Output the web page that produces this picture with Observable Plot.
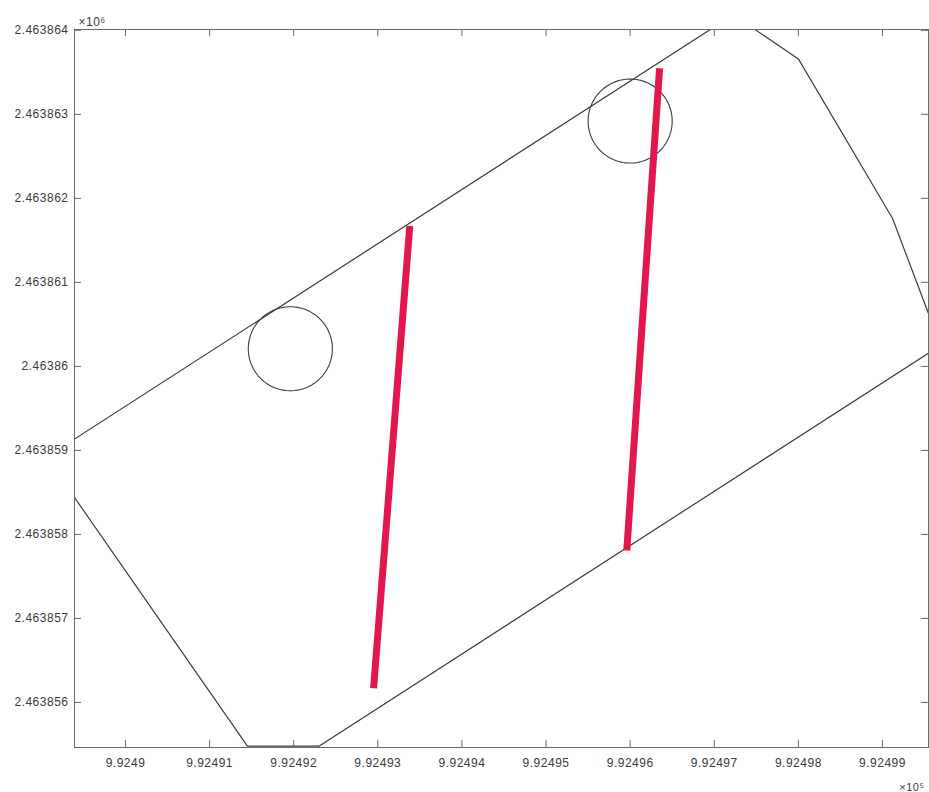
<!DOCTYPE html>
<html><head><meta charset="utf-8">
<script src="https://cdn.jsdelivr.net/npm/d3@7"></script>
<script src="https://cdn.jsdelivr.net/npm/@observablehq/plot@0.6"></script>
<style>
body{margin:0;background:#fff}
#chart svg{font-family:"Liberation Sans",Arial,Helvetica,sans-serif;}
</style>
</head><body><div id="chart"></div>
<script>
// Boundary polygon (closed)
const boundaryX = [992489.06, 992497.00, 992497.44, 992498.00, 992499.12, 992499.69, 992492.30, 992491.45, 992489.06];
const boundaryY = [2463858.92, 2463864.04, 2463864.04, 2463863.66, 2463861.76, 2463860.25, 2463855.48, 2463855.48, 2463858.92];

// Red segments
const segId = ["s1", "s1", "s2", "s2"];
const segX = [992492.95, 992493.38, 992495.96, 992496.35];
const segY = [2463856.17, 2463861.67, 2463857.81, 2463863.55];

// Circles
const circleX = [992491.96, 992496.00];
const circleY = [2463860.21, 2463862.92];
const circleR = [0.5, 0.5];

// Ticks
const xTicks = [992490, 992491, 992492, 992493, 992494, 992495, 992496, 992497, 992498, 992499];
const xTickLabels = ["9.9249", "9.92491", "9.92492", "9.92493", "9.92494", "9.92495", "9.92496", "9.92497", "9.92498", "9.92499"];
const yTicks = [2463856, 2463857, 2463858, 2463859, 2463860, 2463861, 2463862, 2463863, 2463864];
const yTickLabels = ["2.463856", "2.463857", "2.463858", "2.463859", "2.46386", "2.463861", "2.463862", "2.463863", "2.463864"];
const xDomain = [992489.394, 992499.547];
const yDomain = [2463855.464, 2463864.01];

const W = 929, H = 792, mL = 74, mR = 1, mT = 29, mB = 45;
const innerW = W - mL - mR, innerH = H - mT - mB;
const tickLen = 7;

const boundary = boundaryX.map((x, i) => ({x, y: boundaryY[i]}));
const segs = segX.map((x, i) => ({id: segId[i], x, y: segY[i]}));
const circles = [];
circleX.forEach((cx, k) => {
  for (let a = 0; a <= 360; a += 4) {
    const t = a * Math.PI / 180;
    circles.push({id: k, x: cx + circleR[k] * Math.cos(t), y: circleY[k] + circleR[k] * Math.sin(t)});
  }
});

const axisColor = "#6a6a6a";
const textColor = "#3a3a3a";

const chart = Plot.plot({
  width: W, height: H,
  marginLeft: mL, marginRight: mR, marginTop: mT, marginBottom: mB,
  style: {fontSize: "12px", color: textColor, letterSpacing: "0.5px"},
  x: {domain: xDomain},
  y: {domain: yDomain},
  marks: [
    Plot.line(boundary, {x: "x", y: "y", stroke: "#3c3c3c", strokeWidth: 1.2, clip: true}),
    Plot.line(circles, {x: "x", y: "y", z: "id", stroke: "#3c3c3c", strokeWidth: 1.1, clip: true}),
    Plot.line(segs, {x: "x", y: "y", z: "id", stroke: "#e2174b", strokeWidth: 7, strokeLinecap: "butt", clip: true}),
    Plot.frame({stroke: axisColor, strokeWidth: 1}),
    Plot.ruleX(xTicks, {x: d => d, insetTop: innerH - tickLen, stroke: axisColor}),
    Plot.ruleX(xTicks, {x: d => d, insetBottom: innerH - tickLen, stroke: axisColor}),
    Plot.ruleY(yTicks, {y: d => d, insetRight: innerW - tickLen, stroke: axisColor}),
    Plot.ruleY(yTicks, {y: d => d, insetLeft: innerW - tickLen, stroke: axisColor}),
    Plot.axisX(xTicks, {anchor: "bottom", tickSize: 0, tickPadding: 11, tickFormat: d => xTickLabels[xTicks.indexOf(d)], label: null, fill: textColor}),
    Plot.axisY(yTicks, {anchor: "left", tickSize: 0, tickPadding: 6, tickFormat: d => yTickLabels[yTicks.indexOf(d)], label: null, fill: textColor}),
    Plot.text(["×10⁶"], {text: d => d, frameAnchor: "top-left", dx: 4, dy: -4, textAnchor: "start", lineAnchor: "bottom", fontSize: 12, fill: textColor}),
    Plot.text(["×10⁵"], {text: d => d, frameAnchor: "bottom-right", dx: -4, dy: 40, textAnchor: "end", lineAnchor: "middle", fontSize: 11, fill: textColor})
  ]
});
document.getElementById("chart").appendChild(chart);
</script>
</body></html>
